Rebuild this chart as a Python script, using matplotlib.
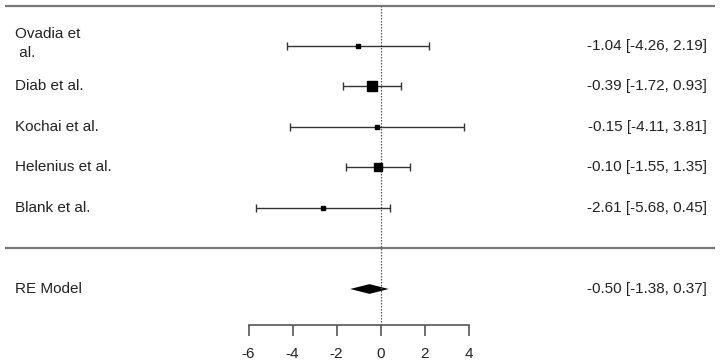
import matplotlib
matplotlib.use("Agg")
import matplotlib.pyplot as plt
import numpy as np

# Study data --------------------------------------------------------------
studies = ["Ovadia et\n al.", "Diab et al.", "Kochai et al.", "Helenius et al.", "Blank et al."]
est = [-1.04, -0.39, -0.15, -0.10, -2.61]
lower = [-4.26, -1.72, -4.11, -1.55, -5.68]
upper = [2.19, 0.93, 3.81, 1.35, 0.45]

re_label = "RE Model"
re_est = -0.50
re_lower = -1.38
re_upper = 0.37

ticks = [-6, -4, -2, 0, 2, 4]

# weights from CI width (inverse variance), scaled like metafor's psize
se = (np.array(upper) - np.array(lower)) / (2 * 1.96)
w = 1 / se**2
psize = 0.5 + (w - w.min()) / (w.max() - w.min())
ms = psize * 4.8

plt.rcParams['font.family'] = ['Liberation Sans', 'DejaVu Sans']
fs = 11

W, H = 721, 363
fig = plt.figure(figsize=(W / 100, H / 100), dpi=100)
ax = fig.add_axes([0, 0, 1, 1])

# pixel mapping: 0 effect at x=380px, 22px per unit; rows 40.5px apart
px0, pxu = 380.5, 22.0
row_px = 40.5
ax.set_xlim(-px0 / pxu, (W - px0) / pxu)
ax.set_ylim(1 - (H - 208) / row_px, 1 + 208 / row_px)

k = len(studies)
rows = np.arange(k, 0, -1)
x_left = -366 / pxu
x_right = (707 - px0) / pxu
x_line0 = (5 - px0) / pxu
x_line1 = (715 - px0) / pxu
y_axis = 1 - (325 - 208) / row_px
y_top = 1 + (208 - 6.5) / row_px

# horizontal rules
ax.plot([x_line0, x_line1], [y_top, y_top], color='#777777', lw=1.6, solid_capstyle='butt')
ax.plot([x_line0, x_line1], [0, 0], color='#777777', lw=1.6, solid_capstyle='butt')

# reference line
ax.plot([0, 0], [y_axis, y_top], color='#555555', lw=0.9, linestyle=(0, (1.2, 1.2)))

# study CIs
for i in range(k):
    ax.errorbar(est[i], rows[i], xerr=[[est[i] - lower[i]], [upper[i] - est[i]]],
                fmt='s', color='black', ecolor='#333333', elinewidth=1.0,
                capsize=3.2, capthick=1.0, ms=ms[i], mec='black', mfc='black')
    yl = rows[i] + (0.06 if "\n" in studies[i] else 0)
    ax.text(x_left, yl, studies[i], ha='left', va='center', fontsize=fs, color='#222222',
            linespacing=1.5)
    ax.text(x_right, rows[i], "%.2f [%.2f, %.2f]" % (est[i], lower[i], upper[i]),
            ha='right', va='center', fontsize=fs, color='#222222')

# summary diamond
h = 0.12
ax.fill([re_lower, re_est, re_upper, re_est], [-1, -1 + h, -1, -1 - h],
        color='black', lw=0)
ax.text(x_left, -1, re_label, ha='left', va='center', fontsize=fs, color='#222222')
ax.text(x_right, -1, "%.2f [%.2f, %.2f]" % (re_est, re_lower, re_upper),
        ha='right', va='center', fontsize=fs, color='#222222')

# x axis
for s in ['top', 'right', 'left']:
    ax.spines[s].set_visible(False)
ax.spines['bottom'].set_position(('data', y_axis))
ax.spines['bottom'].set_bounds(ticks[0], ticks[-1])
ax.spines['bottom'].set_color('#555555')
ax.spines['bottom'].set_linewidth(1.2)
ax.set_xticks(ticks)
ax.set_xticklabels([str(t) for t in ticks])
ax.tick_params(axis='x', direction='out', length=8, width=1.2, color='#555555',
               labelsize=fs, labelcolor='#222222', pad=8)
ax.set_yticks([])

fig.savefig("out.png", dpi=100)
